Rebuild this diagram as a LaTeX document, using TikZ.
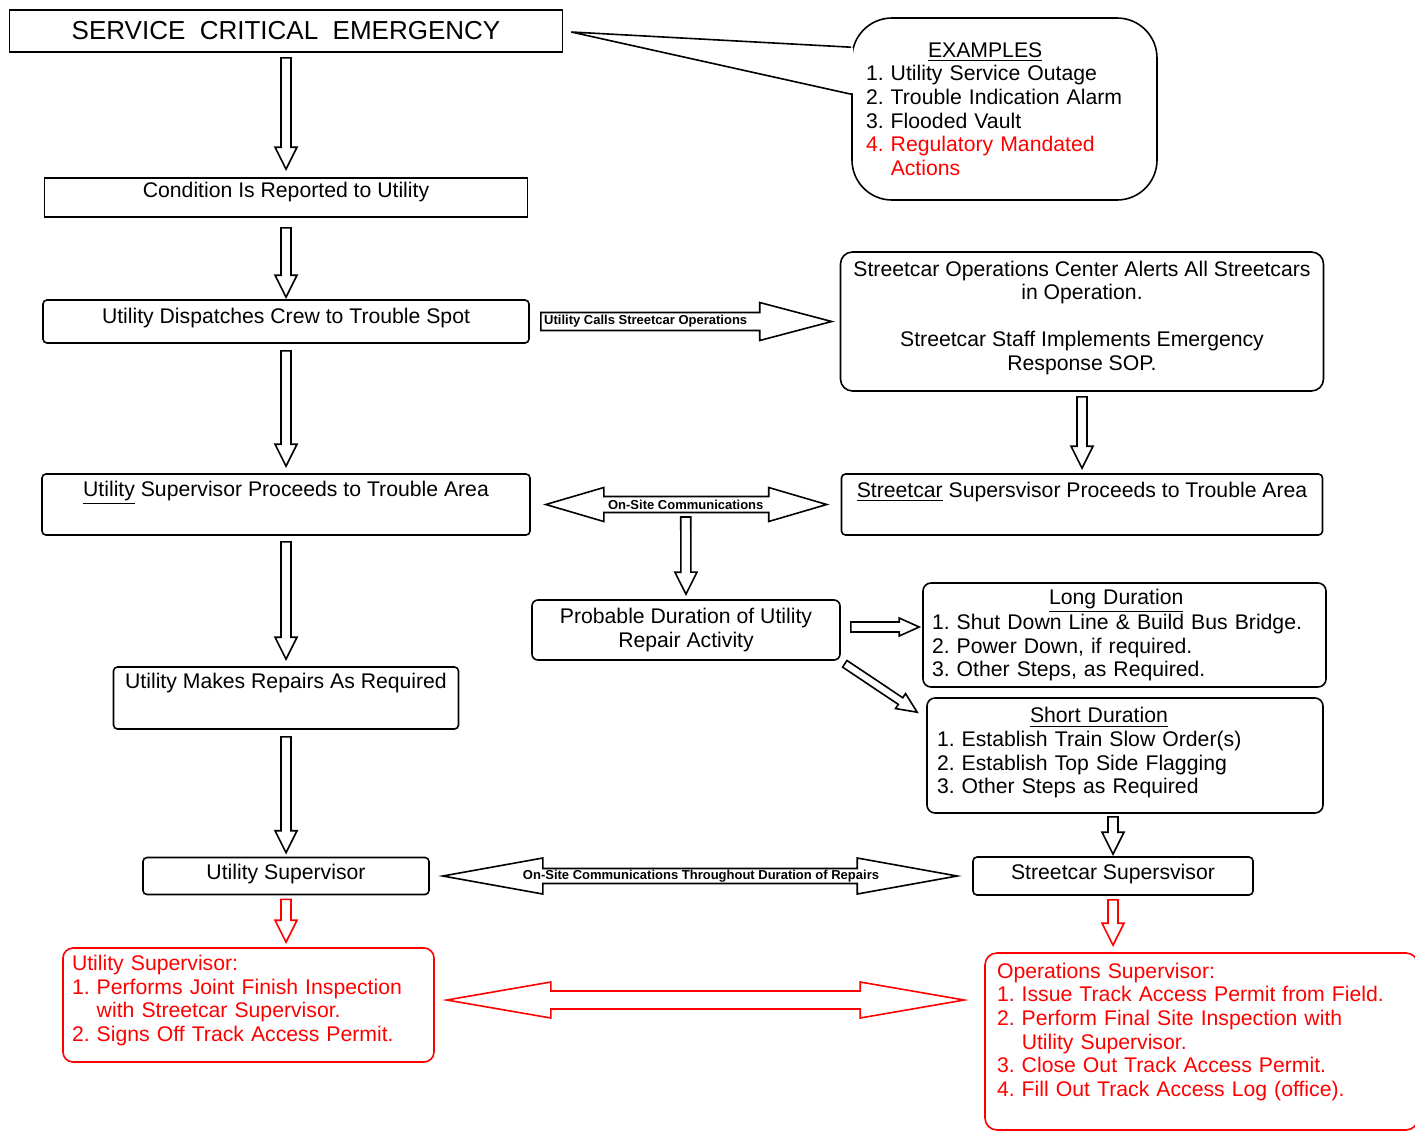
\documentclass[tikz,border=0pt]{standalone}
\usepackage{fontspec}
\setmainfont{Liberation Sans}
\usetikzlibrary{calc}
\frenchspacing

\begin{document}
\begin{tikzpicture}[
    x=0.5pt, y=-0.5pt,
    shaftw/.store in=\shaftw, headw/.store in=\headw, headl/.store in=\headl,
    shaftw=2.5pt, headw=5.5pt, headl=11pt,
    box/.style={draw, line width=0.8pt, rounded corners=2pt, inner xsep=4.5pt, inner ysep=2pt,
      font=\fontsize{10.6}{11.8}\selectfont},
    redbox/.style={box, draw=red, text=red, rounded corners=5pt, align=left},
    lbl/.style={font=\fontsize{6.5}{7}\selectfont\bfseries, inner sep=0pt},
    hollow/.style={draw, line width=0.8pt, fill=white, to path={
        let \p1=($(\tikztotarget)-(\tikztostart)$), \n1={veclen(\x1,\y1)}, \n2={atan2(\y1,\x1)} in
        [shift={(\tikztostart)}, rotate=\n2]
        (0pt,\shaftw) -- (\n1-\headl,\shaftw) -- (\n1-\headl,\headw) -- (\n1,0pt)
        -- (\n1-\headl,-\headw) -- (\n1-\headl,-\shaftw) -- (0pt,-\shaftw) -- cycle}},
    hollow2/.style={draw, line width=0.8pt, fill=white, to path={
        let \p1=($(\tikztotarget)-(\tikztostart)$), \n1={veclen(\x1,\y1)}, \n2={atan2(\y1,\x1)} in
        [shift={(\tikztostart)}, rotate=\n2]
        (0pt,0pt) -- (\headl,\headw) -- (\headl,\shaftw) -- (\n1-\headl,\shaftw) -- (\n1-\headl,\headw)
        -- (\n1,0pt) -- (\n1-\headl,-\headw) -- (\n1-\headl,-\shaftw) -- (\headl,-\shaftw)
        -- (\headl,-\headw) -- cycle}}
  ]
  \useasboundingbox (0,0) rectangle (1415,1131);

  % Left column
  \node[box, sharp corners, minimum width=276.5pt, minimum height=21pt, font=\fontsize{13}{15}\selectfont] (svc) at (286,31) {SERVICE~ CRITICAL~ EMERGENCY};
  \node[box, sharp corners, minimum width=241.5pt, text height=7.5pt, text depth=8pt] (cond) at (286,197.5) {Condition Is Reported to Utility};
  \node[box, minimum width=243pt, text height=9.5pt, text depth=8pt] (disp) at (286,321.5) {Utility Dispatches Crew to Trouble Spot};
  \node[box, minimum width=244pt, text height=9pt, text depth=17.5pt] (usp) at (286,504.5) {\underline{Utility} Supervisor Proceeds to Trouble Area};
  \node[box, minimum width=172.5pt, text height=8.5pt, text depth=18.5pt] (rep) at (286,698) {Utility Makes Repairs As Required};
  \node[box, minimum width=143pt, text height=9pt, text depth=5.5pt] (usup) at (286,876) {Utility Supervisor};
  \node[redbox, minimum width=185.5pt, minimum height=57pt, text width=176.5pt] (ured) at (248.5,1005)
    {Utility Supervisor:\\1. Performs Joint Finish Inspection\\\phantom{1. }with Streetcar Supervisor.\\2. Signs Off Track Access Permit.\\[-5pt]\mbox{}};

  % Right column
  \node[box, rounded corners=20pt, minimum width=152.5pt, minimum height=91pt, text width=138.5pt, align=left] (ex) at (1004.5,109)
    {\hspace*{31pt}\underline{EXAMPLES}\\1. Utility Service Outage\\2. Trouble Indication Alarm\\3. Flooded Vault\\
     \textcolor{red}{4. Regulatory Mandated}\\\textcolor{red}{\phantom{4. }Actions}};
  \node[box, rounded corners=6pt, minimum width=241.5pt, minimum height=69.5pt, align=center] (ops) at (1082,321.5)
    {Streetcar Operations Center Alerts All Streetcars\\in Operation.\\[11.8pt]Streetcar Staff Implements Emergency\\Response SOP.\\[-6pt]\mbox{}};
  \node[box, minimum width=240.5pt, text height=9.5pt, text depth=17pt] (ssp) at (1082,504.5) {\underline{Streetcar} Supersvisor Proceeds to Trouble Area};
  \node[box, rounded corners=3pt, minimum width=154pt, minimum height=30pt, align=center] (prob) at (686,630) {Probable Duration of Utility\\Repair Activity};
  \node[box, rounded corners=4pt, minimum width=201.5pt, minimum height=52pt, text width=192.5pt, align=left] (long) at (1124.5,635)
    {\hspace*{58.5pt}\underline{Long Duration}\\1. Shut Down Line \& Build Bus Bridge.\\2. Power Down, if required.\\3. Other Steps, as Required.};
  \node[box, rounded corners=4pt, minimum width=198pt, minimum height=57.5pt, text width=188pt, align=left] (short) at (1125,755.5)
    {\hspace*{46.5pt}\underline{Short Duration}\\1. Establish Train Slow Order(s)\\2. Establish Top Side Flagging\\3. Other Steps as Required\\[-7pt]\mbox{}};
  \node[box, minimum width=140pt, text height=9pt, text depth=6pt] (ssup) at (1113,876) {Streetcar Supersvisor};
  \node[redbox, rounded corners=6pt, minimum width=216.5pt, minimum height=88.5pt, text width=204.5pt] (opsred) at (1201.5,1041.5)
    {Operations Supervisor:\\1. Issue Track Access Permit from Field.\\2. Perform Final Site Inspection with\\\phantom{2. }Utility Supervisor.\\3. Close Out Track Access Permit.\\4. Fill Out Track Access Log (office).\\\mbox{}};

  % Callout pointer
  \coordinate (extip) at ($(svc.east)+(8,1)$);
  \fill[white] ($(ex.north west)+(2,31)$) -- (extip) -- ($(ex.north west)+(2,76)$) -- cycle;
  \draw[line width=0.8pt] ($(ex.north west)+(0,30)$) -- (extip) -- ($(ex.north west)+(0,77)$);

  % Free ends
  \coordinate (osc) at ($(usp.east)!0.5!(ssp.west)+(0,12.5)$);
  \coordinate (uredin) at ($(usup.south |- ured.north)+(0,-5)$);
  \coordinate (opsin) at ($(ssup.south |- opsred.north)+(0,-7)$);
  \coordinate (longin) at ($(long.west |- prob.east)+(-3,-3)$);
  \coordinate (shortin) at ($(short.north west)+(-9,15)$);
  \coordinate (opsl) at ($(opsred.west |- ured.east)+(-20,-5)$);

  % Block arrows
  \draw[hollow] ($(svc.south)+(0,5)$) to ([yshift=4pt]cond.north);
  \draw[hollow] ($(cond.south)+(0,10)$) to ([yshift=1pt]disp.north);
  \draw[hollow] ($(disp.south)+(0,7)$) to ([yshift=3.5pt]usp.north);
  \draw[hollow] ($(usp.south)+(0,6)$) to ([yshift=3.5pt]rep.north);
  \draw[hollow] ($(rep.south)+(0,7)$) to ([yshift=2pt]usup.north);
  \draw[hollow, draw=red] ($(usup.south)+(0,4)$) to (uredin);
  \draw[hollow] ($(ops.south)+(0,5)$) to ([yshift=2.5pt]ssp.north);
  \draw[hollow] (osc) to ([yshift=2.5pt]prob.north);
  \draw[hollow] ($(ssup.north |- short.south)+(0,3)$) to ([yshift=1pt]ssup.north);
  \draw[hollow, draw=red] ($(ssup.south)+(0,4)$) to (opsin);
  \draw[hollow, shaftw=2.5pt, headw=4.5pt, headl=10pt] ($(prob.east)+(10,-3)$) to (longin);
  \draw[hollow, shaftw=2pt, headw=4.5pt, headl=10pt] ($(prob.south east)+(4,3)$) to (shortin);
  \draw[hollow, shaftw=4.5pt, headw=9.5pt, headl=36pt] ($(disp.east)+(11,0)$) to ([xshift=-4pt]ops.west);
  \draw[hollow2, shaftw=4pt, headw=8.5pt, headl=29pt] ($(usp.east)+(15,0)$) to ([xshift=-7pt]ssp.west);
  \draw[hollow2, shaftw=3.75pt, headw=9pt, headl=50pt] ($(usup.east)+(13,0)$) to ([xshift=-7.5pt]ssup.west);
  \draw[hollow2, draw=red, shaftw=4.5pt, headw=9pt, headl=52pt] ($(ured.east)+(12,-5)$) to (opsl);

  % Arrow labels
  \node[lbl, anchor=west] (callsl) at ($(disp.east)+(14,0)$) {Utility Calls Streetcar Operations};
  \node[lbl] (onsitel) at ($(usp.east)!0.5!(ssp.west)$) {On-Site Communications};
  \node[lbl] (thrul) at ($(usup.east)!0.5!(ssup.west)$) {On-Site Communications Throughout Duration of Repairs};

\end{tikzpicture}
\end{document}
